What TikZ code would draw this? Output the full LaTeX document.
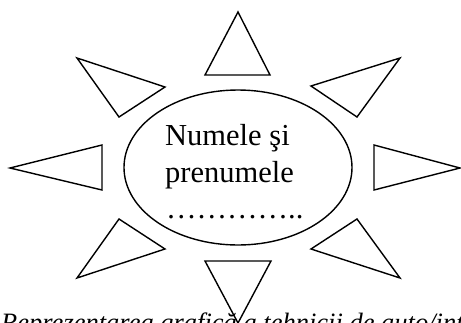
\documentclass[tikz,border=0pt]{standalone}
\usepackage{fontspec}
\setmainfont{Liberation Serif}
\usetikzlibrary{shapes.geometric}
\begin{document}
\begin{tikzpicture}[x=1pt,y=-1pt,
  ray/.style={draw=black,line width=1.4pt,line join=miter},
  oval/.style={draw=black,line width=1.4pt,ellipse,minimum width=228pt,minimum height=155pt,inner sep=0pt},
  txt/.style={anchor=base west,inner sep=0pt,font=\fontsize{30.5}{36}\selectfont},
  captxt/.style={anchor=base west,inner sep=0pt,font=\fontsize{26.5}{32}\selectfont\itshape}]
\useasboundingbox (0,0) rectangle (461,322);
\clip (0,0) rectangle (461,322);
% ellipse
\node[oval] (sun) at (238,167.5) {};
% rays
\draw[ray] (238,12) -- (270,75) -- (205,75) -- cycle;
\draw[ray] (238,323) -- (271,261) -- (205,261) -- cycle;
\draw[ray] (10,168) -- (102,145) -- (102,190) -- cycle;
\draw[ray] (460,168) -- (374,145) -- (374,190) -- cycle;
\draw[ray] (77,58) -- (165,87) -- (119,117) -- cycle;
\draw[ray] (400,58) -- (311,86) -- (357,117) -- cycle;
\draw[ray] (77,278) -- (165,249) -- (119,219) -- cycle;
\draw[ray] (400,278) -- (311,249) -- (357,219) -- cycle;
% text
\node[txt] (l1) at (165,145) {Numele şi};
\node[txt] (l2) at (165,182) {prenumele};
\node[txt] (l3) at (166,218) {…………..};
\node[captxt] (caption) at (1,331) {Reprezentarea grafică a tehnicii de auto/intercunoaştere};
\end{tikzpicture}
\end{document}
